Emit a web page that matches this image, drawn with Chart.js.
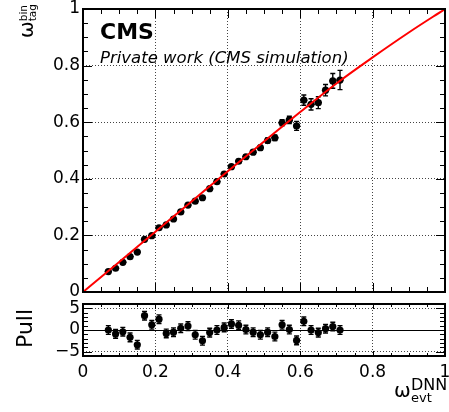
<!DOCTYPE html>
<html>
<head>
<meta charset="utf-8">
<script src="https://cdn.jsdelivr.net/npm/chart.js@4.4.0/dist/chart.umd.min.js"></script>
<style>
  body { margin: 0; background: #fff; }
  #wrap { position: relative; width: 449px; height: 412px; background: #fff; overflow: hidden; }
  #wrap canvas { position: absolute; left: 0; }
  #main { top: 0; }
  #pull { top: 296px; }
</style>
</head>
<body>
<div id="wrap">
  <canvas id="main" width="449" height="300"></canvas>
  <canvas id="pull" width="449" height="116"></canvas>
</div>
<script>
// per-event mistag (DNN) bins vs. measured mistag fraction
const binCentres = [0.07, 0.09, 0.11, 0.13, 0.15, 0.17, 0.19, 0.21, 0.23, 0.25, 0.27,
                    0.29, 0.31, 0.33, 0.35, 0.37, 0.39, 0.41, 0.43, 0.45, 0.47, 0.49,
                    0.51, 0.53, 0.55, 0.57, 0.59, 0.61, 0.63, 0.65, 0.67, 0.69, 0.71];
const omegaTag = [0.072, 0.084, 0.105, 0.125, 0.141, 0.186, 0.199, 0.227, 0.237, 0.258, 0.283,
                  0.307, 0.321, 0.333, 0.365, 0.390, 0.417, 0.443, 0.462, 0.478, 0.494, 0.510,
                  0.535, 0.545, 0.598, 0.608, 0.587, 0.678, 0.663, 0.669, 0.713, 0.746, 0.749];
const omegaTagErr = [0.005, 0.005, 0.005, 0.005, 0.005, 0.005, 0.005, 0.005, 0.005, 0.005, 0.005,
                     0.005, 0.006, 0.006, 0.006, 0.006, 0.006, 0.006, 0.006, 0.006, 0.007, 0.008,
                     0.009, 0.010, 0.011, 0.013, 0.016, 0.018, 0.020, 0.021, 0.020, 0.026, 0.034];
const binHalfWidth = 0.01;
const pullValues = [0.0, -0.9, -0.4, -1.7, -3.4, 3.3, 1.2, 2.5, -0.8, -0.5, 0.4,
                    0.9, -1.1, -2.5, -0.6, 0.0, 0.6, 1.4, 1.1, 0.1, -0.5, -1.1,
                    -0.5, -1.5, 1.2, 0.1, -2.4, 2.0, 0.0, -0.6, 0.3, 0.8, 0.0];
const pullErr = 1;

// calibration curve
const fitX = [0, 0.1, 0.2, 0.3, 0.4, 0.5, 0.6, 0.7, 0.8, 0.9, 1.0];
const fitY = [0, 0.106, 0.213, 0.320, 0.427, 0.532, 0.636, 0.737, 0.829, 0.917, 1.0];

const xTicks = [0, 0.2, 0.4, 0.6, 0.8, 1];
const mainYTicks = [0, 0.2, 0.4, 0.6, 0.8, 1];
const pullYTicks = [-5, 0, 5];

const FONT = 'DejaVu Sans';
Chart.defaults.font.family = FONT;
Chart.defaults.color = '#000';

const fmt = v => {
  const r = Math.round(v * 10) / 10;
  return r < 0 ? '\u2212' + (-r) : String(r);
};
const setTicks = list => s => { s.ticks = list.map(v => ({ value: v })); };
const fixW = w => s => { s.width = w; s.paddingTop = 0; s.paddingBottom = 0; };
const fixH = h => s => { s.height = h; s.paddingLeft = 0; s.paddingRight = 0; };

const gridOpts = { color: '#444', lineWidth: 1, drawTicks: false };
const borderOpts = { display: false, dash: [1, 2] };

// vertical (and optional horizontal) error bars from the data arrays
const errorBars = {
  id: 'errorBars',
  beforeDatasetsDraw(chart, args, o) {
    const { ctx, scales: { x, y } } = chart;
    ctx.save();
    ctx.strokeStyle = '#000';
    ctx.lineWidth = 1.4;
    o.xs.forEach((v, i) => {
      const e = Array.isArray(o.err) ? o.err[i] : o.err;
      const px = x.getPixelForValue(v);
      const py = y.getPixelForValue(o.ys[i]);
      const top = y.getPixelForValue(o.ys[i] + e);
      const bot = y.getPixelForValue(o.ys[i] - e);
      ctx.beginPath();
      ctx.moveTo(px, top); ctx.lineTo(px, bot);
      ctx.moveTo(px - 2.5, top); ctx.lineTo(px + 2.5, top);
      ctx.moveTo(px - 2.5, bot); ctx.lineTo(px + 2.5, bot);
      if (o.xerr) {
        ctx.moveTo(x.getPixelForValue(v - o.xerr), py);
        ctx.lineTo(x.getPixelForValue(v + o.xerr), py);
      }
      ctx.stroke();
    });
    if (o.zeroLine) {
      const z = Math.round(y.getPixelForValue(0)) + 0.5;
      ctx.lineWidth = 1;
      ctx.beginPath();
      ctx.moveTo(chart.chartArea.left, z);
      ctx.lineTo(chart.chartArea.right, z);
      ctx.stroke();
    }
    ctx.restore();
  }
};

// frame with inward major/minor ticks on all four sides
const frame = {
  id: 'frame',
  afterDraw(chart, args, o) {
    const { ctx, chartArea: a, scales: { x, y } } = chart;
    ctx.save();
    ctx.strokeStyle = '#000';
    ctx.lineWidth = 1;
    ctx.beginPath();
    const isMajor = (v, m) => Math.abs(v / m - Math.round(v / m)) < 1e-6;
    let n = Math.round((x.max - x.min) / o.xMinor);
    for (let k = 0; k <= n; k++) {
      const v = x.min + k * o.xMinor;
      const len = isMajor(v, o.xMajor) ? o.xLen[0] : o.xLen[1];
      const px = Math.round(x.getPixelForValue(v)) + 0.5;
      ctx.moveTo(px, a.bottom); ctx.lineTo(px, a.bottom - len);
      ctx.moveTo(px, a.top); ctx.lineTo(px, a.top + len);
    }
    n = Math.round((y.max - y.min) / o.yMinor);
    for (let k = 0; k <= n; k++) {
      const v = y.min + k * o.yMinor;
      const len = isMajor(v, o.yMajor) ? o.yLen[0] : o.yLen[1];
      const py = Math.round(y.getPixelForValue(v)) + 0.5;
      ctx.moveTo(a.left, py); ctx.lineTo(a.left + len, py);
      ctx.moveTo(a.right, py); ctx.lineTo(a.right - len, py);
    }
    ctx.stroke();
    ctx.lineWidth = 2;
    ctx.strokeRect(a.left, a.top, a.right - a.left, a.bottom - a.top);
    ctx.restore();
  }
};

// titles and labels
const labels = {
  id: 'labels',
  afterDraw(chart, args, o) {
    const ctx = chart.ctx;
    ctx.save();
    ctx.fillStyle = '#000';
    ctx.textAlign = 'left';
    ctx.textBaseline = 'alphabetic';
    if (o.panel === 'main') {
      ctx.font = `bold 22px ${FONT}`;
      ctx.fillText('CMS', 100, 39);
      ctx.font = `italic 16.5px ${FONT}`;
      ctx.fillText('Private work (CMS simulation)', 100, 63);
      ctx.translate(33, 38);
      ctx.rotate(-Math.PI / 2);
      ctx.font = `20px ${FONT}`;
      ctx.fillText('\u03c9', 0, 0);
      const w = ctx.measureText('\u03c9').width;
      ctx.font = `10.5px ${FONT}`;
      ctx.fillText('bin', w, -6);
      ctx.fillText('tag', w, 3);
    } else {
      ctx.font = `20px ${FONT}`;
      ctx.fillText('\u03c9', 394, 101);
      ctx.font = `16px ${FONT}`;
      ctx.fillText('DNN', 411, 94);
      ctx.font = `13px ${FONT}`;
      ctx.fillText('evt', 411, 106);
      ctx.translate(32, 52);
      ctx.rotate(-Math.PI / 2);
      ctx.font = `22px ${FONT}`;
      ctx.fillText('Pull', 0, 0);
    }
    ctx.restore();
  }
};

new Chart(document.getElementById('main'), {
  type: 'scatter',
  data: {
    datasets: [
      {
        type: 'line',
        data: fitX.map((x, i) => ({ x, y: fitY[i] })),
        borderColor: '#ff0000',
        borderWidth: 2,
        pointRadius: 0,
        cubicInterpolationMode: 'monotone',
        order: 0
      },
      {
        data: binCentres.map((x, i) => ({ x, y: omegaTag[i] })),
        pointRadius: 3.6,
        backgroundColor: '#000',
        borderWidth: 0,
        order: 1
      }
    ]
  },
  options: {
    responsive: false,
    devicePixelRatio: 1,
    animation: false,
    events: [],
    layout: { padding: { top: 9, right: 3, left: 0, bottom: 0 } },
    plugins: {
      legend: { display: false },
      tooltip: { enabled: false },
      errorBars: { xs: binCentres, ys: omegaTag, err: omegaTagErr, xerr: binHalfWidth },
      frame: { xMinor: 0.05, xMajor: 0.2, yMinor: 0.05, yMajor: 0.2, xLen: [9, 5], yLen: [9, 5] },
      labels: { panel: 'main' }
    },
    scales: {
      x: {
        type: 'linear', min: 0, max: 1,
        afterBuildTicks: setTicks(xTicks),
        ticks: { display: false },
        grid: gridOpts, border: borderOpts,
        afterFit: fixH(8)
      },
      y: {
        type: 'linear', min: 0, max: 1,
        afterBuildTicks: setTicks(mainYTicks),
        ticks: { font: { size: 17 }, padding: 3, callback: fmt },
        grid: gridOpts, border: borderOpts,
        afterFit: fixW(83)
      }
    }
  },
  plugins: [errorBars, frame, labels]
});

new Chart(document.getElementById('pull'), {
  type: 'scatter',
  data: {
    datasets: [{
      data: binCentres.map((x, i) => ({ x, y: pullValues[i] })),
      pointRadius: 3.6,
      backgroundColor: '#000',
      borderWidth: 0
    }]
  },
  options: {
    responsive: false,
    devicePixelRatio: 1,
    animation: false,
    events: [],
    layout: { padding: { top: 8, right: 3, left: 0, bottom: 0 } },
    plugins: {
      legend: { display: false },
      tooltip: { enabled: false },
      errorBars: { xs: binCentres, ys: pullValues, err: pullErr, zeroLine: true },
      frame: { xMinor: 0.05, xMajor: 0.2, yMinor: 1, yMajor: 5, xLen: [5, 3], yLen: [9, 5] },
      labels: { panel: 'pull' }
    },
    scales: {
      x: {
        type: 'linear', min: 0, max: 1,
        afterBuildTicks: setTicks(xTicks),
        ticks: { font: { size: 17 }, padding: 6, maxRotation: 0, callback: fmt },
        grid: gridOpts, border: borderOpts,
        afterFit: fixH(56)
      },
      y: {
        type: 'linear', min: -6, max: 6,
        afterBuildTicks: setTicks(pullYTicks),
        ticks: { font: { size: 17 }, padding: 3, callback: fmt },
        grid: gridOpts, border: borderOpts,
        afterFit: fixW(83)
      }
    }
  },
  plugins: [errorBars, frame, labels]
});
</script>
</body>
</html>
